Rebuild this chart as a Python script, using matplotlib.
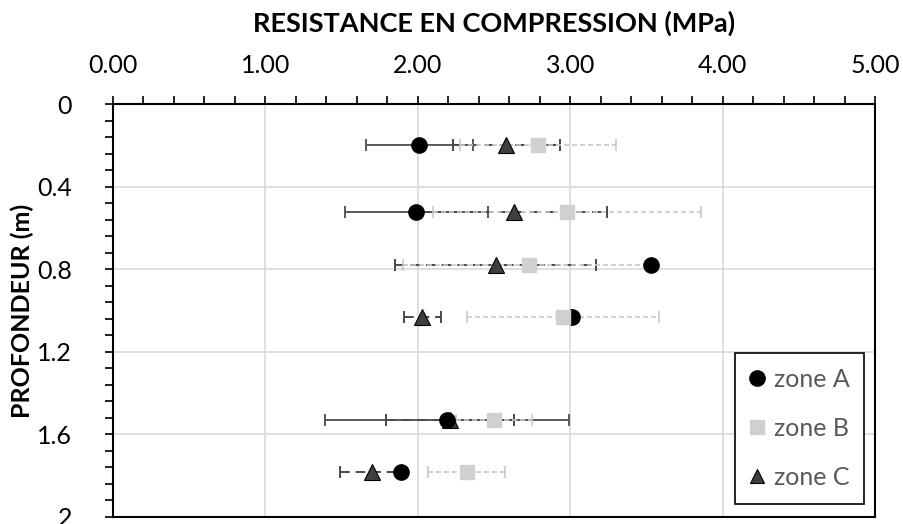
import matplotlib
matplotlib.use("Agg")
import matplotlib.pyplot as plt
from matplotlib.lines import Line2D
from matplotlib.ticker import MultipleLocator

plt.rcParams["font.family"] = ["Lato", "DejaVu Sans"]

# ── Data ──────────────────────────────────────────────────────────────────────
depth = [0.20, 0.525, 0.78, 1.03, 1.53, 1.78]

zone_a     = [2.01, 1.99, 3.53, 3.01, 2.19, 1.89]
zone_a_err = [0.35, 0.47, 0.00, 0.00, 0.80, 0.00]
zone_b     = [2.79, 2.98, 2.73, 2.95, 2.50, 2.32]
zone_b_err = [0.51, 0.88, 0.83, 0.63, 0.25, 0.25]
zone_c     = [2.58, 2.63, 2.51, 2.03, 2.21, 1.70]
zone_c_err = [0.35, 0.61, 0.66, 0.12, 0.42, 0.21]

x_ticks = [0, 1, 2, 3, 4, 5]
y_ticks = [0, 0.4, 0.8, 1.2, 1.6, 2.0]
y_labels = ["0", "0.4", "0.8", "1.2", "1.6", "2"]

COL_A, COL_B, COL_C = "#000000", "#D0D0D0", "#3F3F3F"
FS = 18

# ── Plot ──────────────────────────────────────────────────────────────────────
fig = plt.figure(figsize=(9.04, 5.24), dpi=100)
ax = fig.add_axes([113 / 904, 1 - 517 / 524, 762 / 904, 413 / 524])

# error bars first, markers on top (C under A under B)
ax.errorbar(zone_a, depth, xerr=zone_a_err, fmt="none", ecolor="#595959",
            elinewidth=1.4, capsize=4.5, capthick=1.4, zorder=2)
ec = ax.errorbar(zone_c, depth, xerr=zone_c_err, fmt="none", ecolor="#4A4A4A",
                 elinewidth=1.4, capsize=4.5, capthick=1.4, zorder=2.2)
ec[2][0].set_linestyle((0, (5, 3)))
eb = ax.errorbar(zone_b, depth, xerr=zone_b_err, fmt="none", ecolor="#C8C8C8",
                 elinewidth=1.2, capsize=4.5, capthick=1.2, zorder=2.4)
eb[2][0].set_linestyle((0, (3, 1.8)))

ax.plot(zone_c, depth, ls="none", marker="^", ms=11, mfc=COL_C, mec="#000000",
        mew=0.8, zorder=3)
ax.plot(zone_a, depth, ls="none", marker="o", ms=11, mfc=COL_A, mec=COL_A, zorder=4)
ax.plot(zone_b, depth, ls="none", marker="s", ms=10.5, mfc=COL_B, mec=COL_B, zorder=5)

ax.set_xlim(0, 5)
ax.set_ylim(2, 0)

ax.xaxis.set_ticks_position("top")
ax.xaxis.set_label_position("top")
ax.set_xticks(x_ticks)
ax.set_xticklabels([f"{v:.2f}" for v in x_ticks], fontsize=FS)
ax.xaxis.set_minor_locator(MultipleLocator(0.2))
ax.set_yticks(y_ticks)
ax.set_yticklabels(y_labels, fontsize=FS)
ax.yaxis.set_minor_locator(MultipleLocator(0.08))

ax.tick_params(axis="x", which="both", direction="out", length=5.5, width=1.2,
               pad=14, top=True, bottom=False)
ax.tick_params(axis="y", which="both", direction="out", length=5.5, width=1.2,
               pad=24)

ax.set_xlabel("RESISTANCE EN COMPRESSION (MPa)", fontsize=19.5, fontweight="bold",
              labelpad=16)
ax.set_ylabel("PROFONDEUR (m)", fontsize=FS, fontweight="bold", labelpad=2)

ax.grid(True, which="major", color="#D9D9D9", linewidth=1.2, zorder=0)
ax.set_axisbelow(True)
for s in ax.spines.values():
    s.set_linewidth(1.5)
    s.set_color("#000000")

handles = [
    Line2D([], [], ls="none", marker="o", ms=11, mfc=COL_A, mec=COL_A),
    Line2D([], [], ls="none", marker="s", ms=10, mfc=COL_B, mec=COL_B),
    Line2D([], [], ls="none", marker="^", ms=10, mfc=COL_C, mec="#000000", mew=0.8),
]
leg = ax.legend(handles, ["zone A", "zone B", "zone C"], loc="lower right",
                bbox_to_anchor=(0.986, 0.031), borderaxespad=0, fontsize=FS,
                labelspacing=1.05, handlelength=0.6, handletextpad=0.35,
                borderpad=0.6, fancybox=False, framealpha=1, edgecolor="#000000",
                labelcolor="#595959")
leg.get_frame().set_linewidth(1.2)

fig.savefig("out.png", dpi=100)
